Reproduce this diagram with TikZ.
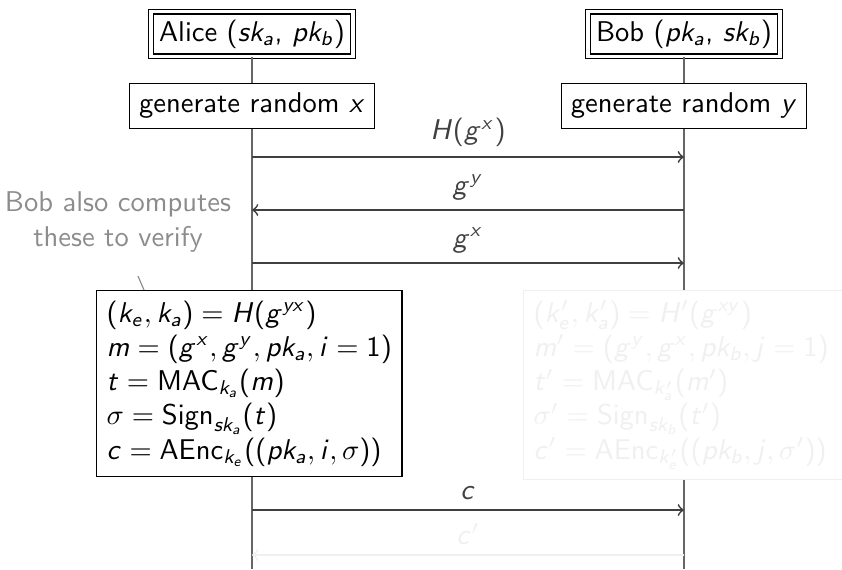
\documentclass[tikz,border=0pt]{standalone}
\usepackage{tikz}
\usetikzlibrary{positioning}
\usetikzlibrary{arrows}
\renewcommand{\familydefault}{\sfdefault}
% sans serif math letters and digits
\DeclareSymbolFont{sfletters}{OT1}{cmss}{m}{sl}
\SetSymbolFont{operators}{normal}{OT1}{cmss}{m}{n}
\makeatletter
\@tfor\ch:=abcdefghijklmnopqrstuvwxyzABCDEFGHIJKLMNOPQRSTUVWXYZ\do{%
  \edef\tmp{\noexpand\DeclareMathSymbol{\ch}{\noexpand\mathalpha}{sfletters}{`\ch}}\tmp}
\makeatother
\tikzset{party/.style={draw,double,double distance=1.2pt,fill=white,inner sep=2.8pt},
  action/.style={draw,fill=white,inner sep=3.3pt},
  calc box/.style={draw,fill=white,align=left,inner sep=3.5pt,anchor=north west},
  faded/.style={draw=black!6,text=black!6,text width=112pt},
  note/.style={align=center,text=black!45},
  lifeline/.style={draw=black!60,semithick},
  msg/.style={->,>=to,black!75,semithick},}

\begin{document}
\begin{tikzpicture}[x=0.35pt, y=-0.35pt, auto]
	\useasboundingbox (0,0) rectangle (842,569);
	% parties
	\node[party] (alice) at (252,34) {Alice ($sk_a$, $pk_b$)};
	\node[party] (bob) at (684,34) {Bob ($pk_a$, $sk_b$)};
	\node[action] (genx) at (252,106) {generate random $x$};
	\node[action] (geny) at (684,106) {generate random $y$};
	\coordinate (aend) at (252,569);
	\coordinate (bend) at (684,569);

	% lifelines
	\draw[lifeline] (alice) -- (genx) (genx) -- (aend);
	\draw[lifeline] (bob) -- (geny) (geny) -- (bend);

	% computations
	\node[calc box] (calca) at (96,290) {$(k_e, k_a) = H(g^{yx})$\\
		$m = (g^x, g^y, pk_a, i = 1)$\\
		$t = \mathsf{MAC}_{k_a}(m)$\\
		$\sigma = \mathsf{Sign}_{sk_a}(t)$\\
		$c = \mathsf{AEnc}_{k_e}((pk_a, i, \sigma))$};
	\node[calc box, faded] (calcb) at (523,290) {$(k'_e, k'_a) = H'(g^{xy})$\\
		$m' = (g^y, g^x, pk_b, j = 1)$\\
		$t' = \mathsf{MAC}_{k'_a}(m')$\\
		$\sigma' = \mathsf{Sign}_{sk_b}(t')$\\
		$c' = \mathsf{AEnc}_{k'_e}((pk_b, j, \sigma'))$};

	\node[note] (remark) at (118,222) {Bob also computes\\these to verify};
	\coordinate (ptrfrom) at (138,276);
	\coordinate (ptrto) at (144,290);
	\draw[black!45] (ptrfrom) -- (ptrto);

	% messages
	\foreach \y/\n in {157/1,210/2,263/3,510/4,555/5}{
		\coordinate (a\n) at (252,\y);
		\coordinate (b\n) at (684,\y);
	}
	\path[msg]
	(a1) edge node {$H(g^x)$} (b1)
	(b2) edge node[swap] {$g^y$} (a2)
	(a3) edge node {$g^x$} (b3)
	(a4) edge node {$c$} (b4)
	(b5) edge [black!6] node[swap] {$c'$} (a5);
\end{tikzpicture}
\end{document}
